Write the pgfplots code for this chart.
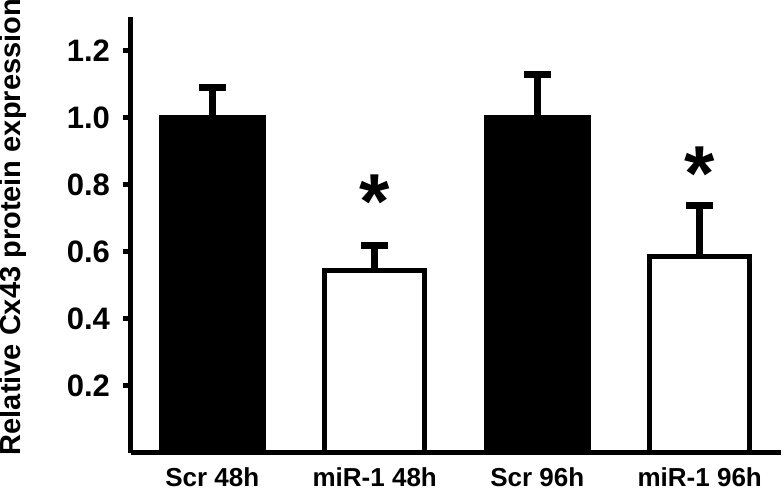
\documentclass[border=0pt]{standalone}
\usepackage{fontspec}
\setmainfont{Liberation Sans}
\usepackage{pgfplots}
\pgfplotsset{compat=1.18}
\begin{document}
\begin{tikzpicture}
\begin{axis}[
  scale only axis, width=325pt, height=218pt,
  xmin=-0.5, xmax=3.5, ymin=0, ymax=1.3,
  axis x line=bottom, axis y line=left,
  axis line style={-, line width=2.5pt, black},
  ytick={0.2,0.4,0.6,0.8,1.0,1.2},
  yticklabel style={/pgf/number format/fixed, /pgf/number format/fixed zerofill, /pgf/number format/precision=1, /pgf/number format/assume math mode=true,
    font=\fontsize{15.5}{17}\selectfont\bfseries, xshift=-3pt},
  tick align=outside, major tick length=4pt,
  y tick style={line width=2.5pt, black},
  xtick={0,1,2,3}, xticklabels={Scr 48h, miR-1 48h, Scr 96h, miR-1 96h},
  x tick style={draw=none},
  xticklabel style={font=\fontsize{13}{15}\selectfont\bfseries, yshift=0pt},
  every axis y label/.style={at={(axis description cs:-0.181,0.518)}, anchor=center, rotate=90,
    font=\fontsize{14.5}{16}\selectfont\bfseries},
  ylabel={Relative Cx43 protein expression},
  clip=false,
]
\addplot[ybar, bar width=51pt, bar shift=0pt, fill=black, draw=black, line width=2.5pt,
  error bars/.cd, y dir=plus, y explicit, error mark=|,
  error bar style={line width=3.5pt, black},
  error mark options={line width=3.5pt, mark size=6.75pt, black}]
  coordinates {(0,1.0) +- (0,0.09) (2,1.0) +- (0,0.13)};
\addplot[ybar, bar width=50pt, bar shift=0pt, fill=white, draw=black, line width=2.5pt,
  error bars/.cd, y dir=plus, y explicit, error mark=|,
  error bar style={line width=3.5pt, black},
  error mark options={line width=3.5pt, mark size=6.75pt, black}]
  coordinates {(1,0.545) +- (0,0.074) (3,0.585) +- (0,0.152)};
\node[anchor=base, font=\fontsize{39}{39}\selectfont\bfseries] at (axis cs:1,0.668) {*};
\node[anchor=base, font=\fontsize{39}{39}\selectfont\bfseries] at (axis cs:3,0.753) {*};
\end{axis}
\pgfresetboundingbox
\path[use as bounding box] (-65.5pt,-18.5pt) rectangle (326.5pt,226.5pt);
\end{tikzpicture}
\end{document}
